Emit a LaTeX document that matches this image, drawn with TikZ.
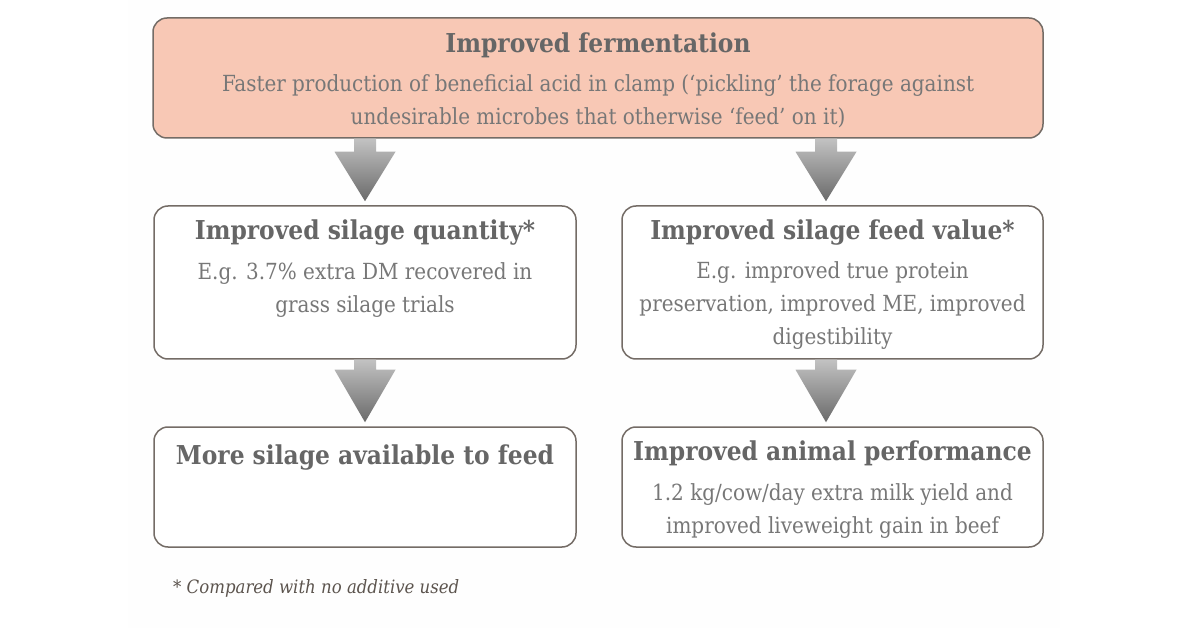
\documentclass[tikz,border=0pt]{standalone}
\usepackage{fontspec}
\setmainfont{DejaVu Serif Condensed}
\usetikzlibrary{calc,positioning}

\definecolor{fermfill}{HTML}{F8C8B5}
\definecolor{edge}{HTML}{746C66}
\definecolor{headgray}{HTML}{666666}
\definecolor{bodygray}{HTML}{777777}
\definecolor{notegray}{HTML}{5C544E}
\definecolor{arrowtop}{HTML}{C2C2C2}
\definecolor{arrowtip}{HTML}{6A6A6A}
\definecolor{pagetint}{HTML}{FEFEFE}

% shaded block arrow from the bottom of #2 down to the top of #3
\newcommand{\blockarrow}[4][0pt]{%
  \shade[top color=arrowtop, bottom color=arrowtip]
    let \p1=(#2.south), \p2=([xshift=#1]#3.north) in
    (\x2-11pt,\y1) -- (\x2-11pt,\y1-#4) -- (\x2-30.5pt,\y1-#4) -- (\x2,\y2+4pt)
    -- (\x2+30.5pt,\y1-#4) -- (\x2+11pt,\y1-#4) -- (\x2+11pt,\y1) -- cycle;
}

\begin{document}
\begin{tikzpicture}[x=1pt, y=-1pt]
\tikzset{
  panel/.style={
    draw=edge, line width=1.5pt, rounded corners=14pt, fill=white
  },
  headtxt/.style={font=\fontsize{26}{30}\selectfont\bfseries, text=headgray, inner sep=0pt, anchor=base},
  bodytxt/.style={font=\fontsize{22.2}{33}\selectfont, text=bodygray, align=center, inner sep=0pt, anchor=north}
}
\useasboundingbox (0,0) rectangle (1200,628);
\fill[pagetint] (128,0) rectangle (1060,628);

\node[panel, fill=fermfill, minimum width=890pt, minimum height=120pt] (ferm) at (598,78) {};
\node[panel, minimum width=422pt, minimum height=153pt] (quantity) at (365,282.5) {};
\node[panel, minimum width=421pt, minimum height=153pt] (feedval)  at (832.5,282.5) {};
\node[panel, minimum width=422pt, minimum height=120pt] (moresilage) at (365,487) {};
\node[panel, minimum width=421pt, minimum height=120pt] (animal)     at (832.5,487) {};

\node[headtxt] (fermhead) at ([yshift=-35pt]ferm.north) {Improved fermentation};
\node[bodytxt] (fermbody) at ([yshift=-57pt]ferm.north)
  {Faster production of beneficial acid in clamp (‘pickling’ the forage against\\ undesirable microbes that otherwise ‘feed’ on it)};

\node[headtxt] (quanthead) at ([yshift=-34pt]quantity.north) {Improved silage quantity*};
\node[bodytxt] (quantbody) at ([yshift=-57pt]quantity.north)
  {E.g. 3.7\% extra DM recovered in\\ grass silage trials};

\node[headtxt] (feedhead) at ([yshift=-34pt]feedval.north) {Improved silage feed value*};
\node[bodytxt] (feedbody) at ([yshift=-56pt]feedval.north)
  {E.g. improved true protein\\ preservation, improved ME, improved\\ digestibility};

\node[headtxt] (morehead) at ([yshift=-38pt]moresilage.north) {More silage available to feed};

\node[headtxt] (animhead) at ([yshift=-34pt]animal.north) {Improved animal performance};
\node[bodytxt] (animbody) at ([yshift=-57pt]animal.north)
  {1.2 kg/cow/day extra milk yield and\\ improved liveweight gain in beef};

\node[font=\fontsize{18.4}{22}\selectfont\itshape, text=notegray, inner sep=0pt, anchor=base west]
  (footnote) at (173,593) {* Compared with no additive used};

\blockarrow{ferm}{quantity}{13pt}
\blockarrow[-6.5pt]{ferm}{feedval}{13pt}
\blockarrow{quantity}{moresilage}{10pt}
\blockarrow[-6.5pt]{feedval}{animal}{10pt}
\end{tikzpicture}
\end{document}
